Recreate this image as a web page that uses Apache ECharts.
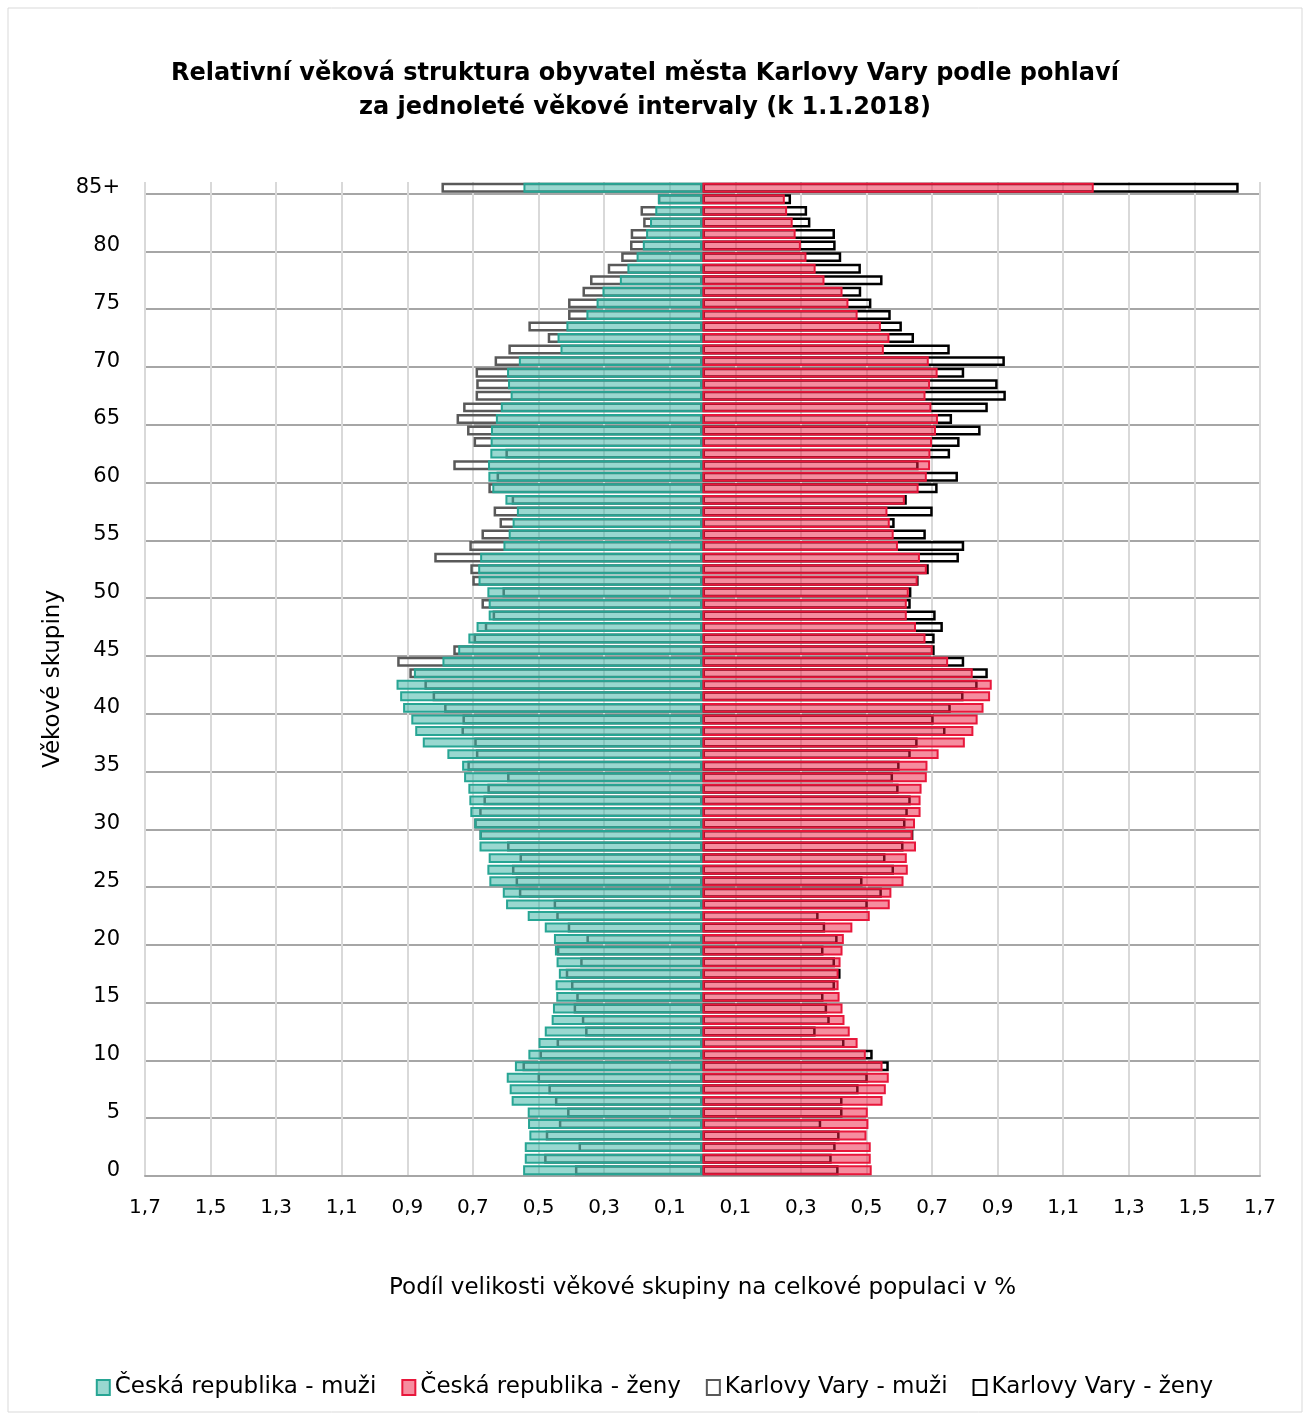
<!DOCTYPE html>
<html lang="cs">
<head>
<meta charset="utf-8">
<title>Věková struktura Karlovy Vary</title>
<script src="https://cdn.jsdelivr.net/npm/echarts@6/dist/echarts.min.js"></script>
<style>
  html, body { margin: 0; padding: 0; background: #fff; }
  #chart { width: 1309px; height: 1419px; }
</style>
</head>
<body>
<div id="chart"></div>
<script>
  // věkové skupiny 0 .. 84, 85+
  const ages = [];
  for (let i = 0; i < 85; i++) ages.push(String(i));
  ages.push('85+');

  // podíl v % (muži kladně, na grafu se kreslí doleva)
  const crMen = [
    0.547, 0.542, 0.542, 0.528, 0.532, 0.533, 0.582, 0.588, 0.597, 0.572,
    0.531, 0.500, 0.481, 0.460, 0.456, 0.446, 0.448, 0.438, 0.445, 0.450,
    0.453, 0.481, 0.533, 0.599, 0.609, 0.650, 0.656, 0.652, 0.680, 0.680,
    0.696, 0.708, 0.711, 0.714, 0.727, 0.733, 0.778, 0.853, 0.876, 0.888,
    0.913, 0.922, 0.933, 0.880, 0.793, 0.745, 0.714, 0.689, 0.652, 0.652,
    0.656, 0.683, 0.684, 0.678, 0.607, 0.591, 0.579, 0.566, 0.601, 0.641,
    0.653, 0.654, 0.647, 0.646, 0.645, 0.630, 0.615, 0.585, 0.593, 0.596,
    0.560, 0.433, 0.442, 0.415, 0.354, 0.323, 0.305, 0.252, 0.229, 0.201,
    0.182, 0.172, 0.160, 0.144, 0.136, 0.546
  ];
  const crWomen = [
    0.516, 0.513, 0.513, 0.500, 0.506, 0.504, 0.549, 0.559, 0.568, 0.549,
    0.498, 0.473, 0.449, 0.433, 0.427, 0.418, 0.415, 0.415, 0.421, 0.427,
    0.431, 0.457, 0.510, 0.571, 0.576, 0.613, 0.626, 0.623, 0.651, 0.641,
    0.648, 0.665, 0.665, 0.668, 0.684, 0.686, 0.720, 0.800, 0.826, 0.839,
    0.857, 0.877, 0.882, 0.824, 0.749, 0.702, 0.680, 0.651, 0.623, 0.623,
    0.629, 0.656, 0.684, 0.663, 0.596, 0.583, 0.571, 0.564, 0.617, 0.659,
    0.684, 0.694, 0.695, 0.700, 0.712, 0.718, 0.698, 0.680, 0.694, 0.717,
    0.690, 0.553, 0.570, 0.544, 0.473, 0.445, 0.427, 0.372, 0.345, 0.317,
    0.300, 0.284, 0.275, 0.258, 0.251, 1.193
  ];
  const kvMen = [
    0.389, 0.483, 0.378, 0.478, 0.438, 0.413, 0.450, 0.470, 0.503, 0.549,
    0.497, 0.445, 0.358, 0.368, 0.393, 0.385, 0.401, 0.417, 0.373, 0.444,
    0.354, 0.411, 0.446, 0.454, 0.560, 0.570, 0.581, 0.558, 0.596, 0.680,
    0.696, 0.681, 0.668, 0.656, 0.596, 0.717, 0.691, 0.696, 0.735, 0.732,
    0.788, 0.823, 0.848, 0.894, 0.931, 0.760, 0.698, 0.664, 0.640, 0.674,
    0.610, 0.702, 0.708, 0.818, 0.711, 0.674, 0.619, 0.637, 0.582, 0.653,
    0.628, 0.760, 0.601, 0.698, 0.718, 0.750, 0.730, 0.692, 0.690, 0.692,
    0.634, 0.592, 0.472, 0.531, 0.410, 0.410, 0.366, 0.343, 0.289, 0.248,
    0.221, 0.219, 0.181, 0.189, 0.136, 0.796
  ];
  const kvWomen = [
    0.415, 0.394, 0.406, 0.418, 0.362, 0.427, 0.427, 0.476, 0.504, 0.568,
    0.519, 0.433, 0.345, 0.388, 0.380, 0.369, 0.404, 0.421, 0.404, 0.369,
    0.412, 0.374, 0.354, 0.504, 0.547, 0.488, 0.584, 0.558, 0.613, 0.643,
    0.619, 0.626, 0.635, 0.598, 0.581, 0.601, 0.635, 0.656, 0.741, 0.705,
    0.757, 0.796, 0.839, 0.870, 0.798, 0.708, 0.708, 0.733, 0.711, 0.635,
    0.637, 0.659, 0.690, 0.782, 0.798, 0.681, 0.586, 0.702, 0.623, 0.717,
    0.779, 0.659, 0.755, 0.784, 0.848, 0.761, 0.870, 0.925, 0.900, 0.798,
    0.922, 0.754, 0.645, 0.608, 0.574, 0.515, 0.484, 0.549, 0.483, 0.423,
    0.406, 0.404, 0.329, 0.319, 0.270, 1.635
  ];

  const seriesNames = [
    'Česká republika - muži',
    'Česká republika - ženy',
    'Karlovy Vary - muži',
    'Karlovy Vary - ženy'
  ];

  const tealFill = 'rgba(52,178,162,0.5)';
  const tealLine = '#27a594';
  const pinkFill = 'rgba(238,28,64,0.5)';
  const pinkLine = '#e8173b';
  const font = "'DejaVu Sans', 'Liberation Sans', sans-serif";

  const chart = echarts.init(document.getElementById('chart'));

  const neg = (arr) => arr.map((v) => -v);

  const barBase = {
    type: 'bar',
    barGap: '-100%',
    barCategoryGap: '14%',
    silent: true
  };

  const option = {
    animation: false,
    textStyle: { fontFamily: font },
    title: {
      text: 'Relativní věková struktura obyvatel města Karlovy Vary podle pohlaví\nza jednoleté věkové intervaly (k 1.1.2018)',
      left: 640,
      top: 52,
      textAlign: 'center',
      textStyle: {
        fontFamily: font,
        fontSize: 24,
        fontWeight: 'bold',
        lineHeight: 34,
        color: '#000'
      }
    },
    graphic: [
      {
        type: 'rect',
        shape: { x: 8, y: 8, width: 1294, height: 1404 },
        style: { fill: 'none', stroke: '#d9d9d9', lineWidth: 1 },
        silent: true
      }
    ],
    legend: {
      bottom: 15,
      left: 'center',
      itemWidth: 13,
      itemHeight: 15,
      itemGap: 25,
      icon: 'rect',
      textStyle: { fontFamily: font, fontSize: 23, color: '#000', padding: [0, 0, 0, 0] },
      data: [
        { name: seriesNames[0], itemStyle: { color: tealFill, borderColor: tealLine, borderWidth: 2 } },
        { name: seriesNames[1], itemStyle: { color: pinkFill, borderColor: pinkLine, borderWidth: 2 } },
        { name: seriesNames[2], itemStyle: { color: '#fff', borderColor: '#595959', borderWidth: 2 } },
        { name: seriesNames[3], itemStyle: { color: '#fff', borderColor: '#000', borderWidth: 2 } }
      ]
    },
    grid: {
      left: 145,
      right: 49,
      top: 182,
      bottom: 243
    },
    xAxis: {
      type: 'value',
      min: -1.7,
      max: 1.7,
      interval: 0.2,
      name: 'Podíl velikosti věkové skupiny na celkové populaci v %',
      nameLocation: 'middle',
      nameGap: 101,
      nameTextStyle: { fontFamily: font, fontSize: 23, color: '#000' },
      axisLine: { show: true, onZero: false, lineStyle: { color: '#a6a6a6', width: 2 } },
      axisTick: { show: false },
      axisLabel: {
        margin: 22,
        fontFamily: font,
        fontSize: 20,
        color: '#000',
        formatter: (v) => Math.abs(v).toFixed(1).replace('.', ',')
      },
      splitLine: { show: true, lineStyle: { color: '#d9d9d9', width: 2 } }
    },
    yAxis: {
      type: 'category',
      data: ages,
      position: 'left',
      name: 'Věkové skupiny',
      nameLocation: 'middle',
      nameRotate: 90,
      nameGap: 72,
      nameTextStyle: { fontFamily: font, fontSize: 23, color: '#000' },
      axisLine: { show: false },
      axisTick: { show: false },
      axisLabel: {
        interval: (idx) => idx % 5 === 0,
        margin: 25,
        fontFamily: font,
        fontSize: 21,
        color: '#000'
      },
      splitLine: {
        show: true,
        interval: (idx) => idx % 5 === 0,
        showMaxLine: false,
        lineStyle: { color: '#a6a6a6', width: 2 }
      }
    },
    series: [
      // Karlovy Vary jen obrys, vzadu
      Object.assign({}, barBase, {
        name: seriesNames[2],
        data: neg(kvMen),
        itemStyle: { color: 'rgba(255,255,255,0)', borderColor: '#595959', borderWidth: 2.5 }
      }),
      Object.assign({}, barBase, {
        name: seriesNames[3],
        data: kvWomen,
        itemStyle: { color: 'rgba(255,255,255,0)', borderColor: '#000', borderWidth: 2.5 }
      }),
      // Česká republika poloprůhledně navrch
      Object.assign({}, barBase, {
        name: seriesNames[0],
        data: neg(crMen),
        itemStyle: { color: tealFill, borderColor: tealLine, borderWidth: 2 }
      }),
      Object.assign({}, barBase, {
        name: seriesNames[1],
        data: crWomen,
        itemStyle: { color: pinkFill, borderColor: pinkLine, borderWidth: 2 }
      })
    ]
  };

  chart.setOption(option);
</script>
</body>
</html>
